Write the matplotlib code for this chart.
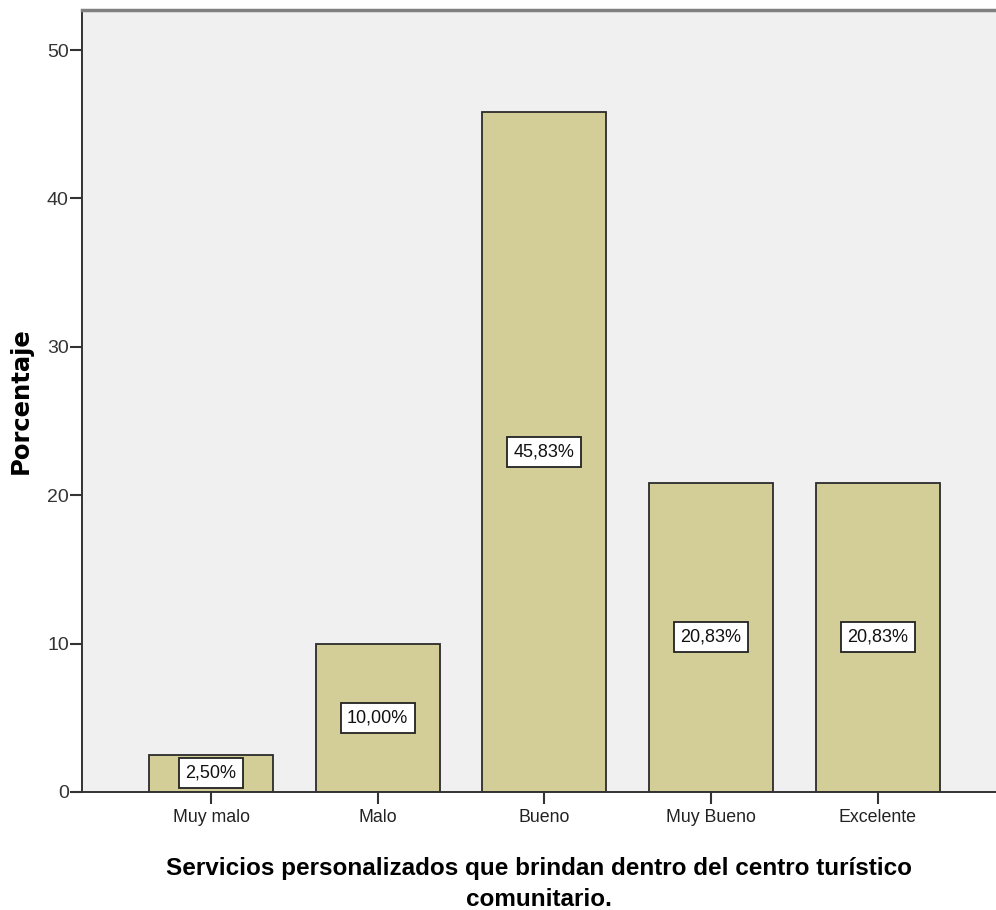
import matplotlib
matplotlib.use("Agg")
import matplotlib.pyplot as plt

categories = ["Muy malo", "Malo", "Bueno", "Muy Bueno", "Excelente"]
percentages = [2.50, 10.00, 45.83, 20.83, 20.83]
y_ticks = [0, 10, 20, 30, 40, 50]

plt.rcParams["font.family"] = ["Liberation Sans", "DejaVu Sans"]

fig = plt.figure(figsize=(9.96, 9.10), dpi=100)
ax = fig.add_axes([82 / 996, 1 - 792 / 910, 1 - 82 / 996, (792 - 10) / 910])
ax.set_facecolor("#F0F0F0")

x = list(range(len(categories)))
ax.bar(x, percentages, width=0.744, color="#D3CE97", edgecolor="#2b2b2b", linewidth=1.3, zorder=2)

for xi, v in zip(x, percentages):
    ax.text(xi, v / 2, f"{v:.2f}%".replace(".", ","), ha="center", va="center",
            fontsize=13, color="#111111", zorder=3,
            bbox=dict(boxstyle="square,pad=0.36", facecolor="white", edgecolor="#222222", linewidth=1.3))

ax.set_xlim(-0.774, 4.71)
ax.set_ylim(0, 52.7)
ax.set_xticks(x)
ax.set_xticklabels(categories, fontsize=12.8, color="#222222")
ax.set_yticks(y_ticks)
ax.set_yticklabels([str(t) for t in y_ticks], fontsize=14, color="#333333")
ax.tick_params(axis="both", direction="out", length=8.5, width=1.5, color="#333333")
ax.tick_params(axis="x", pad=4)
ax.tick_params(axis="y", pad=1)

ax.spines["right"].set_visible(False)
ax.spines["top"].set_color("#808080")
ax.spines["top"].set_linewidth(2.5)
for side in ("left", "bottom"):
    ax.spines[side].set_color("#333333")
    ax.spines[side].set_linewidth(1.4)

ax.set_ylabel("Porcentaje", fontsize=17.5, fontweight="bold", labelpad=10,
              family=["DejaVu Sans"])
ax.set_xlabel("Servicios personalizados que brindan dentro del centro turístico\ncomunitario.",
              fontsize=17.5, fontweight="bold", labelpad=22, linespacing=1.45)

fig.savefig("out.png", dpi=100)
